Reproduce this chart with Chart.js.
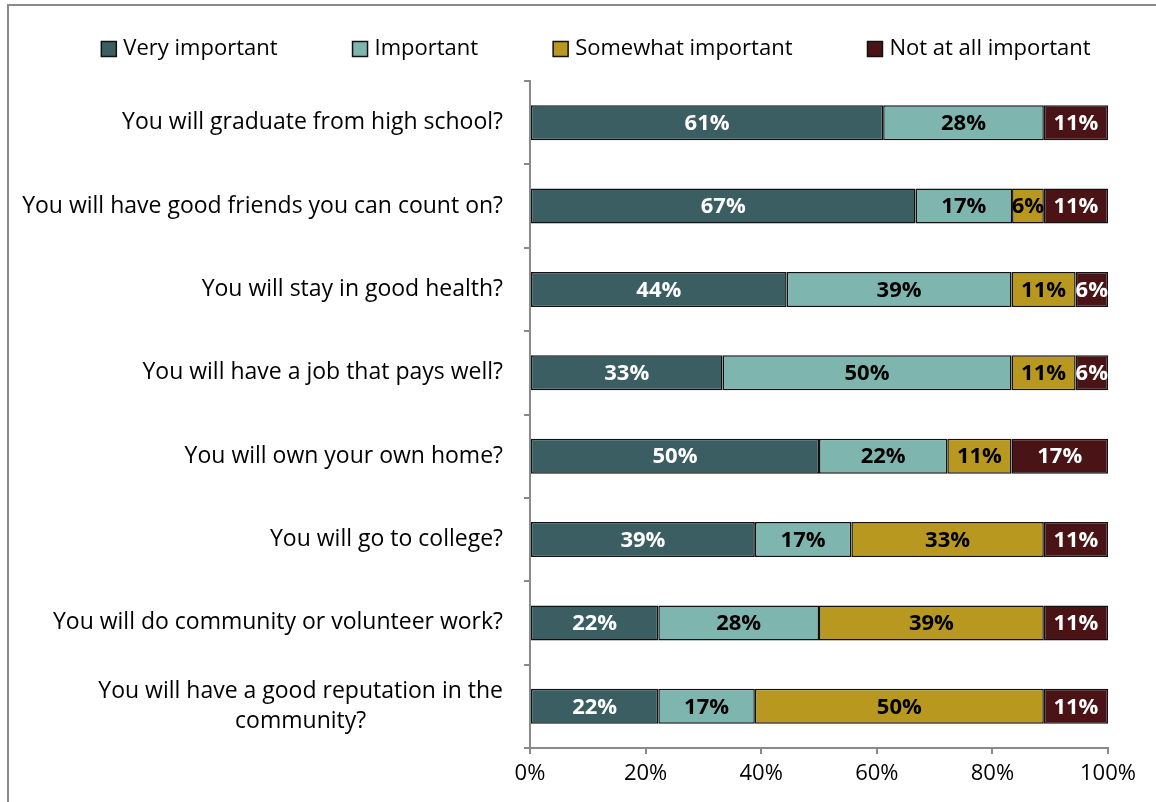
<!DOCTYPE html>
<html>
<head>
<meta charset="utf-8">
<script src="https://cdn.jsdelivr.net/npm/chart.js@4.4.1/dist/chart.umd.min.js"></script>
<style>
  html, body { margin: 0; padding: 0; background: #fff; }
  #wrap { position: relative; width: 1156px; height: 802px; }
</style>
</head>
<body>
<div id="wrap"><canvas id="chart" width="1156" height="802"></canvas></div>
<script>
// Survey answers, share of respondents per item (%)
const questions = [
    ['You will graduate from high school?'],
    ['You will have good friends you can count on?'],
    ['You will stay in good health?'],
    ['You will have a job that pays well?'],
    ['You will own your own home?'],
    ['You will go to college?'],
    ['You will do community or volunteer work?'],
    ['You will have a good reputation in the', 'community?']
];
const veryImportant     = [61.1, 66.7, 44.4, 33.3, 50.0, 38.9, 22.2, 22.2];
const important         = [27.8, 16.7, 38.9, 50.0, 22.2, 16.7, 27.8, 16.7];
const somewhatImportant = [null, 5.5, 11.1, 11.1, 11.1, 33.3, 38.9, 50.0];
const notAtAll          = [11.1, 11.1, 5.6, 5.6, 16.7, 11.1, 11.1, 11.1];
const xTicks = [0, 20, 40, 60, 80, 100];

const FONT = '"Open Sans", Lato, sans-serif';

// Outer frame of the figure
const framePlugin = {
    id: 'frame',
    beforeDraw(chart) {
        const c = chart.ctx;
        c.save();
        c.strokeStyle = '#8a8a8a';
        c.lineWidth = 2;
        c.strokeRect(8, 5, 1300, 1000);
        c.restore();
    }
};

// Legend row across the top: square swatch, then series name
const legendRow = {
    id: 'legendRow',
    afterDraw(chart) {
        const c = chart.ctx;
        const box = 15, gap = 7, itemGap = 75, cy = 49, centre = 596;
        c.save();
        c.font = '22px ' + FONT;
        c.textBaseline = 'middle';
        c.textAlign = 'left';
        const items = chart.data.datasets.map(ds => ({ ds, w: c.measureText(ds.label).width }));
        const total = items.reduce((s, it) => s + box + gap + it.w, 0) + itemGap * (items.length - 1);
        let x = centre - total / 2;
        items.forEach(it => {
            c.fillStyle = it.ds.backgroundColor;
            c.fillRect(x, cy - box / 2, box, box);
            c.strokeStyle = '#111';
            c.lineWidth = 1.5;
            c.strokeRect(x, cy - box / 2, box, box);
            c.fillStyle = '#000';
            c.fillText(it.ds.label, x + box + gap, cy);
            x += box + gap + it.w + itemGap;
        });
        c.restore();
    }
};

// Category names on the left, right aligned, wrapped lines centred on each other
const categoryLabels = {
    id: 'categoryLabels',
    afterDraw(chart) {
        const c = chart.ctx;
        const y = chart.scales.y;
        const right = chart.chartArea.left - 27;
        const lh = 30;
        c.save();
        c.font = '23px ' + FONT;
        c.fillStyle = '#000';
        c.textBaseline = 'middle';
        c.textAlign = 'left';
        questions.forEach((lines, i) => {
            const cy = y.getPixelForValue(i);
            const widths = lines.map(l => c.measureText(l).width);
            const maxW = Math.max(...widths);
            const top = cy - (lines.length - 1) * lh / 2;
            lines.forEach((l, j) => {
                c.fillText(l, right - maxW / 2 - widths[j] / 2, top + j * lh);
            });
        });
        c.restore();
    }
};

// Percent values written inside each segment
const segmentLabels = {
    id: 'segmentLabels',
    afterDatasetsDraw(chart) {
        const c = chart.ctx;
        c.save();
        c.font = 'bold 22px ' + FONT;
        c.textAlign = 'center';
        c.textBaseline = 'middle';
        chart.data.datasets.forEach((ds, di) => {
            const meta = chart.getDatasetMeta(di);
            meta.data.forEach((bar, i) => {
                const v = ds.data[i];
                if (v == null) return;
                c.fillStyle = ds.labelColor;
                c.fillText(Math.round(v) + '%', (bar.x + bar.base) / 2, bar.y + 1);
            });
        });
        c.restore();
    }
};

function series(label, data, color, labelColor) {
    return {
        label: label,
        data: data,
        backgroundColor: color,
        borderColor: '#111',
        borderWidth: 1.5,
        borderSkipped: false,
        labelColor: labelColor,
        categoryPercentage: 1,
        barPercentage: 0.42
    };
}

new Chart(document.getElementById('chart'), {
    type: 'bar',
    data: {
        labels: questions.map(q => q.join(' ')),
        datasets: [
            series('Very important', veryImportant, '#3b5e63', '#fff'),
            series('Important', important, '#7fb5af', '#000'),
            series('Somewhat important', somewhatImportant, '#b8981e', '#000'),
            series('Not at all important', notAtAll, '#4a1416', '#fff')
        ]
    },
    options: {
        indexAxis: 'y',
        responsive: false,
        animation: false,
        layout: { padding: { top: 81, right: 48, bottom: 0, left: 0 } },
        scales: {
            x: {
                stacked: true,
                min: 0,
                max: 100,
                afterBuildTicks: s => { s.ticks = xTicks.map(v => ({ value: v })); },
                ticks: {
                    callback: v => v + '%',
                    color: '#000',
                    font: { family: FONT, size: 22 },
                    padding: 7,
                    maxRotation: 0
                },
                grid: { drawOnChartArea: false, color: '#8a8a8a', lineWidth: 2, tickLength: 6 },
                border: { color: '#8a8a8a', width: 2 },
                afterFit: s => { s.height = 54; }
            },
            y: {
                stacked: true,
                ticks: { display: false },
                grid: { offset: true, drawOnChartArea: false, color: '#8a8a8a', lineWidth: 2, tickLength: 6 },
                border: { color: '#8a8a8a', width: 2 },
                afterFit: s => { s.width = 530; }
            }
        },
        plugins: {
            tooltip: { enabled: false },
            legend: { display: false }
        }
    },
    plugins: [framePlugin, legendRow, categoryLabels, segmentLabels]
});
</script>
</body>
</html>
